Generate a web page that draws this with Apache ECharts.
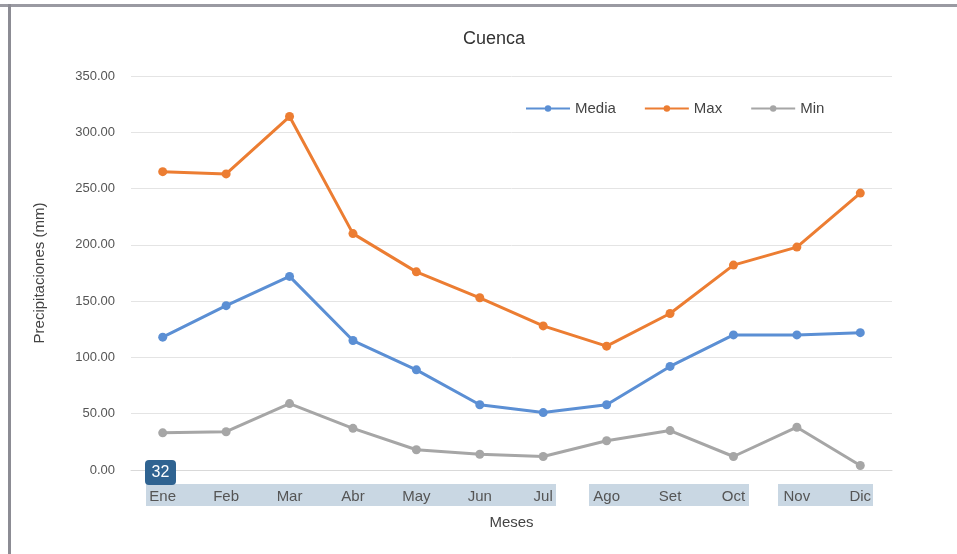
<!DOCTYPE html>
<html><head><meta charset="utf-8">
<script src="https://cdn.jsdelivr.net/npm/echarts@6/dist/echarts.min.js"></script>
<style>html,body{margin:0;padding:0;background:#fff}#c{width:957px;height:554px}</style>
</head><body><div id="c"></div>
<script>
const months = ['Ene','Feb','Mar','Abr','May','Jun','Jul','Ago','Set','Oct','Nov','Dic'];
const media = [118,146,172,115,89,58,51,58,92,120,120,122];
const maxVals = [265,263,314,210,176,153,128,110,139,182,198,246];
const minVals = [33,34,59,37,18,14,12,26,35,12,38,4];
const yTicks = [0,50,100,150,200,250,300,350];

const chart = echarts.init(document.getElementById('c'), null, {renderer:'canvas'});
const font = 'Liberation Sans, Arial, sans-serif';
function line(name, data, color){
  return {name, type:'line', data, symbol:'circle', symbolSize:9,
    lineStyle:{color, width:3}, itemStyle:{color}, z:3};
}
chart.setOption({
  animation:false,
  textStyle:{fontFamily:font},
  title:{text:'Cuenca', left:489, textAlign:'center', top:25,
    textStyle:{fontSize:18, fontWeight:'normal', color:'#333', fontFamily:font}},
  legend:{top:96, left:520, itemGap:28, itemWidth:44, itemHeight:8,
    textStyle:{fontSize:15, color:'#444', fontFamily:font},
    data:['Media','Max','Min']},
  grid:{left:131, right:65, top:76, bottom:84},
  xAxis:{type:'category', data:months, boundaryGap:true,
    name:'Meses', nameLocation:'middle', nameGap:45,
    nameTextStyle:{fontSize:15, color:'#444', fontFamily:font},
    axisLine:{show:true, lineStyle:{color:'#d9d9d9', width:1}},
    axisTick:{show:false},
    axisLabel:{fontSize:15, color:'#555', margin:19, fontFamily:font}},
  yAxis:{type:'value', min:0, max:350, interval:50,
    name:'Precipitaciones (mm)', nameLocation:'middle', nameGap:84, nameRotate:90,
    nameTextStyle:{fontSize:15, color:'#444', fontFamily:font},
    axisLine:{show:false}, axisTick:{show:false},
    axisLabel:{fontSize:13, color:'#555', margin:16, fontFamily:font,
      formatter:v=>yTicks.includes(v)?v.toFixed(2):''},
    splitLine:{lineStyle:{color:'#e4e4e4', width:1}}},
  series:[
    line('Media', media, '#5b8fd4'),
    line('Max', maxVals, '#ec7d32'),
    line('Min', minVals, '#a6a6a6')
  ],
  graphic:[
    {type:'rect', shape:{x:0,y:4,width:957,height:3}, style:{fill:'#9a9aa2'}, z:-1},
    {type:'rect', shape:{x:8,y:4,width:3,height:550}, style:{fill:'#8c8c94'}, z:-1},
    {type:'rect', shape:{x:146,y:484,width:410,height:22}, style:{fill:'#c9d7e3'}, z:-1},
    {type:'rect', shape:{x:589,y:484,width:160,height:22}, style:{fill:'#c9d7e3'}, z:-1},
    {type:'rect', shape:{x:778,y:484,width:95,height:22}, style:{fill:'#c9d7e3'}, z:-1},
    {type:'rect', shape:{x:145,y:460,width:31,height:25,r:4}, style:{fill:'#2f6391'}, z:10},
    {type:'text', x:160.5, y:472.5, style:{text:'32', fill:'#fff', fontSize:16, fontFamily:font, align:'center', verticalAlign:'middle'}, z:11}
  ]
});
</script></body></html>
